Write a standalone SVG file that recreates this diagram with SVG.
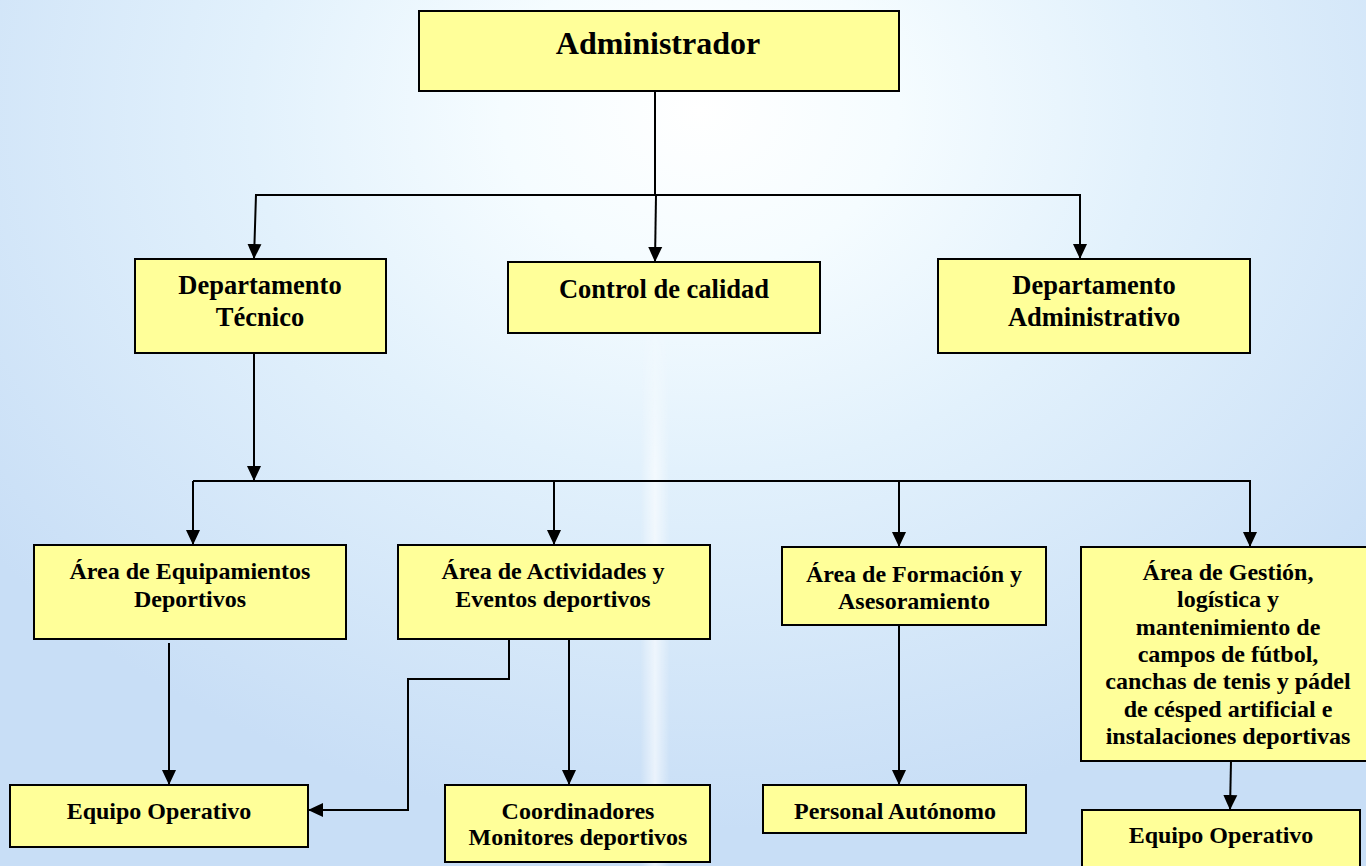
<svg xmlns="http://www.w3.org/2000/svg" width="1366" height="866" viewBox="0 0 1366 866">
<defs>
<radialGradient id="bg" cx="700" cy="110" r="900" gradientUnits="userSpaceOnUse" gradientTransform="translate(700 110) scale(1 0.8) translate(-700 -110)">
<stop offset="0" stop-color="#ffffff"/>
<stop offset="0.22" stop-color="#f5fcff"/>
<stop offset="0.5" stop-color="#e2f1fc"/>
<stop offset="1" stop-color="#c8def6"/>
</radialGradient>
<linearGradient id="stripe" x1="0" y1="0" x2="1" y2="0">
<stop offset="0" stop-color="#ffffff" stop-opacity="0"/>
<stop offset="0.5" stop-color="#ffffff" stop-opacity="0.6"/>
<stop offset="1" stop-color="#ffffff" stop-opacity="0"/>
</linearGradient>
<linearGradient id="stripeV" x1="0" y1="0" x2="0" y2="1">
<stop offset="0" stop-color="#ffffff" stop-opacity="0"/>
<stop offset="0.3" stop-color="#ffffff" stop-opacity="1"/>
<stop offset="1" stop-color="#ffffff" stop-opacity="1"/>
</linearGradient>
<mask id="sm"><rect x="630" y="300" width="50" height="566" fill="url(#stripeV)"/></mask>
<marker id="arr" markerUnits="userSpaceOnUse" markerWidth="15" markerHeight="16" viewBox="0 0 15 16" refX="15" refY="8" orient="auto">
<path d="M0,1 L15,8 L0,15 Z" fill="#000"/>
</marker>
</defs>
<style>
.box{fill:#ffff99;stroke:#000;stroke-width:2}
.t{font-family:"Liberation Serif","Times New Roman",serif;font-weight:bold;fill:#000;text-anchor:middle}
.c{fill:none;stroke:#000;stroke-width:2}
</style>
<rect width="1366" height="866" fill="url(#bg)"/>
<rect x="640" y="300" width="30" height="566" fill="url(#stripe)" mask="url(#sm)"/>

<g id="connectors">
<path class="c" d="M655,91 V195"/>
<path class="c" d="M255,195 H1081"/>
<path class="c" d="M256,195 L254,259" marker-end="url(#arr)"/>
<path class="c" d="M656,195 L655,262" marker-end="url(#arr)"/>
<path class="c" d="M1080,195 V259" marker-end="url(#arr)"/>
<path class="c" d="M254,353 V481" marker-end="url(#arr)"/>
<path class="c" d="M193,481 H1251"/>
<path class="c" d="M193,481 V545" marker-end="url(#arr)"/>
<path class="c" d="M554,481 V545" marker-end="url(#arr)"/>
<path class="c" d="M899,481 V547" marker-end="url(#arr)"/>
<path class="c" d="M1250,481 V547" marker-end="url(#arr)"/>
<path class="c" d="M169,643 V785" marker-end="url(#arr)"/>
<path class="c" d="M509,639 V679 H408 V810 H308" marker-end="url(#arr)"/>
<path class="c" d="M569,639 V785" marker-end="url(#arr)"/>
<path class="c" d="M899,625 V785" marker-end="url(#arr)"/>
<path class="c" d="M1231,761 L1230,810" marker-end="url(#arr)"/>
</g>

<g id="administrador">
<rect class="box" x="419" y="11" width="480" height="80"/>
<text class="t" x="658" y="54" font-size="32">Administrador</text>
</g>
<g id="dep-tecnico">
<rect class="box" x="135" y="259" width="251" height="94"/>
<text class="t" font-size="26.5"><tspan x="260" y="294">Departamento</tspan><tspan x="260" y="326">Técnico</tspan></text>
</g>
<g id="control-calidad">
<rect class="box" x="508" y="262" width="312" height="71"/>
<text class="t" x="664" y="298" font-size="26.5">Control de calidad</text>
</g>
<g id="dep-administrativo">
<rect class="box" x="938" y="259" width="312" height="94"/>
<text class="t" font-size="26.5"><tspan x="1094" y="294">Departamento</tspan><tspan x="1094" y="326">Administrativo</tspan></text>
</g>
<g id="area-equipamientos">
<rect class="box" x="34" y="545" width="312" height="94"/>
<text class="t" font-size="24"><tspan x="190" y="579">Área de Equipamientos</tspan><tspan x="190" y="607">Deportivos</tspan></text>
</g>
<g id="area-actividades">
<rect class="box" x="398" y="545" width="312" height="94"/>
<text class="t" font-size="24"><tspan x="553" y="579">Área de Actividades y</tspan><tspan x="553" y="607">Eventos deportivos</tspan></text>
</g>
<g id="area-formacion">
<rect class="box" x="782" y="547" width="264" height="78"/>
<text class="t" font-size="24"><tspan x="914" y="582">Área de Formación y</tspan><tspan x="914" y="609">Asesoramiento</tspan></text>
</g>
<g id="area-gestion">
<rect class="box" x="1081" y="547" width="290" height="214"/>
<text class="t" font-size="24"><tspan x="1228" y="580">Área de Gestión,</tspan><tspan x="1228" y="607">logística y</tspan><tspan x="1228" y="635">mantenimiento de</tspan><tspan x="1228" y="662">campos de fútbol,</tspan><tspan x="1228" y="689">canchas de tenis y pádel</tspan><tspan x="1228" y="717">de césped artificial e</tspan><tspan x="1228" y="744">instalaciones deportivas</tspan></text>
</g>
<g id="equipo-operativo-1">
<rect class="box" x="10" y="785" width="298" height="62"/>
<text class="t" x="159" y="819" font-size="24">Equipo Operativo</text>
</g>
<g id="coordinadores">
<rect class="box" x="445" y="785" width="265" height="77"/>
<text class="t" font-size="24"><tspan x="578" y="819">Coordinadores</tspan><tspan x="578" y="845">Monitores deportivos</tspan></text>
</g>
<g id="personal-autonomo">
<rect class="box" x="763" y="785" width="263" height="48"/>
<text class="t" x="895" y="819" font-size="24">Personal Autónomo</text>
</g>
<g id="equipo-operativo-2">
<rect class="box" x="1082" y="810" width="278" height="70"/>
<text class="t" x="1221" y="843" font-size="24">Equipo Operativo</text>
</g>
</svg>
